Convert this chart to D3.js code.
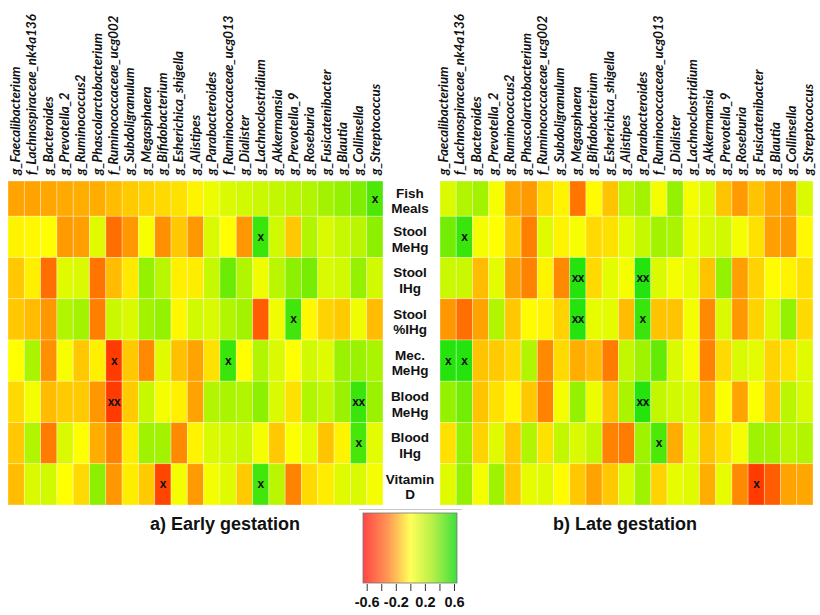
<!DOCTYPE html>
<html><head><meta charset="utf-8">
<script src="https://cdn.jsdelivr.net/npm/d3@7"></script>
<style>body{margin:0;background:#fff}</style>
</head><body><svg id="c" width="820" height="615"></svg>
<script>
const taxa = ["g_Faecalibacterium","f_Lachnospiraceae_nk4a136","g_Bacteroides","g_Prevotella_2","g_Ruminococcus2","g_Phascolarctobacterium","f_Ruminococcaceae_ucg002","g_Subdoligranulum","g_Megasphaera","g_Bifidobacterium","g_Esherichica_shigella","g_Alistipes","g_Parabacteroides","f_Ruminococcaceae_ucg013","g_Dialister","g_Lachnoclostridium","g_Akkermansia","g_Prevotella_9","g_Roseburia","g_Fusicatenibacter","g_Blautia","g_Collinsella","g_Streptococcus"];
const factors = ["Fish Meals","Stool MeHg","Stool IHg","Stool %IHg","Mec. MeHg","Blood MeHg","Blood IHg","Vitamin D"];
const factorLines = [["Fish","Meals"],["Stool","MeHg"],["Stool","IHg"],["Stool","%IHg"],["Mec.","MeHg"],["Blood","MeHg"],["Blood","IHg"],["Vitamin","D"]];

const earlyValues = [
 [-0.25,-0.25,-0.24,-0.23,-0.22,-0.22,-0.18,-0.14,-0.12,-0.1,-0.08,-0.03,0.05,0.1,0.12,0.14,0.16,0.18,0.2,0.24,0.28,0.33,0.45],
 [-0.03,-0.02,0,-0.27,-0.26,0.08,-0.4,-0.28,0.02,-0.3,-0.15,-0.28,0.1,0,-0.28,0.5,0.12,-0.15,0.2,0.1,0.15,0.18,0.3],
 [-0.15,-0.04,-0.4,0.08,0.1,-0.38,-0.18,-0.06,0.28,0.18,-0.04,-0.05,0.15,0.38,0.2,0.04,0.18,0.3,0.35,0.1,0.12,0.28,0.12],
 [-0.15,-0.18,-0.28,0.2,0.24,-0.35,0.14,0.1,0.24,0.28,-0.02,0.12,0.1,0.2,0.24,-0.45,0.04,0.48,-0.02,-0.12,-0.14,0.04,-0.18],
 [0,0.22,-0.3,0.02,-0.15,-0.04,-0.55,-0.15,-0.32,0.08,-0.17,-0.25,-0.08,0.5,0,0.2,0.1,0,0.12,0.08,0.26,0.26,0.22],
 [-0.1,0.03,-0.18,-0.14,-0.14,-0.28,-0.55,-0.14,0.15,0.03,-0.04,-0.25,0.2,0.22,0.2,0.3,0.1,-0.08,0.2,0.16,0.26,0.5,0.26],
 [-0.15,0.2,-0.36,0.1,0,-0.22,-0.34,-0.05,0.25,0.24,-0.32,-0.03,0.1,0.12,0.14,0.03,-0.15,0.01,0.07,-0.16,-0.03,0.47,0.07],
 [-0.18,0.1,0.12,0,-0.1,0.3,-0.28,-0.05,-0.14,-0.52,0.03,-0.27,0.03,0.08,-0.14,0.48,0.18,-0.34,-0.1,-0.05,0.08,0.1,0.03]
];
const lateValues = [
 [0.1,0.2,0.24,0.02,-0.24,-0.27,-0.1,-0.03,-0.38,-0.01,-0.16,0.18,0.24,0.03,0.28,0.03,0.1,-0.16,-0.27,-0.16,-0.24,-0.27,0.1],
 [0.36,0.5,0.03,0,-0.15,-0.35,0.08,-0.03,0.02,-0.1,-0.08,0.07,0.15,0.24,0.22,0.05,0.1,0.12,0.03,-0.08,-0.26,-0.28,-0.02],
 [0.14,0.14,-0.18,0.07,-0.25,-0.34,-0.03,-0.32,0.55,-0.1,0.07,0.03,0.55,0.1,0.03,0.06,-0.16,0.28,-0.26,-0.12,-0.01,-0.03,-0.08],
 [-0.28,-0.4,-0.25,0.2,-0.15,-0.01,-0.03,-0.12,0.55,0.06,0.07,-0.18,0.5,-0.16,-0.16,0.03,-0.32,0.1,-0.28,-0.12,0.1,0.28,-0.1],
 [0.55,0.55,-0.16,-0.14,-0.1,0.2,-0.32,-0.1,-0.22,-0.18,-0.36,0.16,0.25,0.4,0.1,0.02,-0.34,-0.1,0.1,0.07,-0.12,-0.08,0.08],
 [0.28,0.36,-0.16,-0.08,-0.02,-0.15,-0.34,0.03,0.28,0.05,-0.18,0.22,0.55,0.16,0.12,0.1,-0.22,0.01,-0.25,0.01,-0.15,0.18,0.1],
 [-0.08,0.28,-0.12,0.08,-0.15,0.2,-0.08,0.16,0.1,0.16,-0.34,-0.36,0.25,0.45,-0.22,0.08,-0.16,-0.08,0.03,0.25,0.24,0.18,0.2],
 [0.08,0.28,0.03,0.25,-0.15,0.06,0.08,-0.01,-0.15,-0.25,-0.15,0.1,0.25,-0.12,0.06,0.08,-0.22,0.06,-0.32,-0.55,-0.45,-0.25,-0.24]
];
// [row index, column index, mark]
const earlySig = [[0,22,"x"],[1,15,"x"],[3,17,"x"],[4,6,"x"],[4,13,"x"],[5,6,"xx"],[5,21,"xx"],[6,21,"x"],[7,9,"x"],[7,15,"x"]];
const lateSig = [[1,1,"x"],[2,8,"xx"],[2,12,"xx"],[3,8,"xx"],[3,12,"x"],[4,0,"x"],[4,1,"x"],[5,12,"xx"],[6,13,"x"],[7,19,"x"]];
const panelTitles = ["a) Early gestation","b) Late gestation"];
const legendTicks = [-0.6,-0.4,-0.2,0,0.2,0.4,0.6];
const legendLabels = ["-0.6","","-0.2","","0.2","","0.6"];

const svg = d3.select("#c");
const color = d3.scaleLinear().domain([-0.6,-0.3,0,0.3,0.6])
  .range(["#ff2a00","#ff9000","#ffff00","#8cf000","#10e010"]).clamp(true);
const y = d3.scaleBand().domain(factors).range([175,505]);
const clipTop = 181;
const rowTop = f => Math.max(y(f), clipTop);
const yc = f => (rowTop(f) + y(f) + y.bandwidth())/2;

function panel(values, sig, x0, x1, l0, l1, title, tx){
  const x = d3.scaleBand().domain(taxa).range([x0,x1]);
  const lx = d3.scalePoint().domain(taxa).range([l0,l1]);
  const g = svg.append("g");
  const cells = [];
  factors.forEach((f,i)=>taxa.forEach((t,j)=>cells.push({f,t,v:values[i][j]})));
  g.selectAll("rect").data(cells).join("rect")
    .attr("x",d=>x(d.t)).attr("y",d=>rowTop(d.f))
    .attr("width",x.bandwidth()).attr("height",d=>y(d.f)+y.bandwidth()-rowTop(d.f))
    .attr("fill",d=>color(d.v))
    .attr("stroke","rgba(255,255,255,0.4)").attr("stroke-width",0.8);
  g.selectAll("text.sig").data(sig).join("text").attr("class","sig")
    .attr("x",d=>x(taxa[d[1]])+x.bandwidth()/2).attr("y",d=>yc(factors[d[0]])+4)
    .attr("text-anchor","middle").attr("font-family","Liberation Sans, Arial, sans-serif")
    .attr("font-weight","bold").attr("font-size",12).attr("letter-spacing",-0.5).attr("fill","#111")
    .text(d=>d[2]);
  g.selectAll("text.col").data(taxa).join("text").attr("class","col")
    .attr("transform",t=>`translate(${lx(t)},175) rotate(-90)`)
    .attr("dy","0.36em")
    .attr("font-family","Lato, 'Open Sans', sans-serif").attr("font-style","italic").attr("font-weight","bold")
    .attr("font-size",13.3).attr("fill","#111").text(t=>t);
  svg.append("text").attr("x",tx).attr("y",530).attr("text-anchor","middle")
    .attr("font-family","Liberation Sans, Arial, sans-serif").attr("font-weight","bold").attr("font-size",18)
    .attr("fill","#111").text(title);
}
panel(earlyValues, earlySig, 8, 383, 15, 375, panelTitles[0], 225);
panel(lateValues, lateSig, 440, 813, 443, 808, panelTitles[1], 625);

// row labels
const rl = svg.append("g");
factors.forEach((f,i)=>{
  const t = rl.append("text").attr("text-anchor","middle")
    .attr("font-family","Liberation Sans, Arial, sans-serif").attr("font-weight","bold").attr("font-size",13.5).attr("fill","#111");
  factorLines[i].forEach((s,k)=>{
    t.append("tspan").attr("x",410).attr("y",yc(f)+2+(k-0.5)*15.5+5).text(s);
  });
});

// legend
const lg = d3.scaleLinear().domain([-0.6,0.6]).range([366.7,454]);
const defs = svg.append("defs");
const grad = defs.append("linearGradient").attr("id","lgd").attr("x1","0%").attr("x2","100%");
const gx0 = 363, gx1 = 457;
const gStops = [[-0.65,"#ff4646"],[-0.3,"#ff9a55"],[0,"#ffff5a"],[0.3,"#b8f048"],[0.65,"#3ee03e"]];
gStops.forEach(s=>grad.append("stop").attr("offset",((lg(s[0])-gx0)/(gx1-gx0)*100)+"%").attr("stop-color",s[1]));
svg.append("line").attr("x1",359).attr("x2",462).attr("y1",509.5).attr("y2",509.5).attr("stroke","#c8c8c8");
svg.append("rect").attr("x",gx0).attr("y",513).attr("width",gx1-gx0).attr("height",70)
  .attr("fill","url(#lgd)").attr("stroke","#777").attr("stroke-width",0.8);
const ax = svg.append("g").attr("transform","translate(0,584)")
  .call(d3.axisBottom(lg).tickValues(legendTicks).tickSize(7).tickFormat((d,i)=>legendLabels[i]));
ax.select(".domain").remove();
ax.selectAll("line").attr("stroke","#333");
ax.selectAll("text").attr("font-family","Liberation Sans, Arial, sans-serif").attr("font-weight","bold")
  .attr("font-size",14.5).attr("fill","#111").attr("dy","0.9em");
</script></body></html>
